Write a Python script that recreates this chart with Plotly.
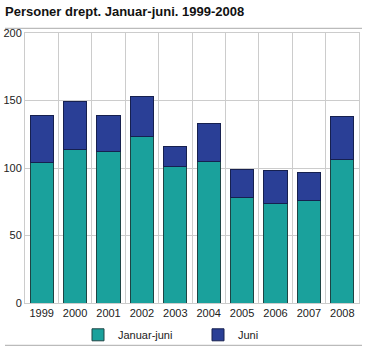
import plotly.graph_objects as go

years = ["1999", "2000", "2001", "2002", "2003", "2004", "2005", "2006", "2007", "2008"]
jan_mai = [104, 114, 112, 123, 101, 105, 78, 74, 76, 106]
totals = [139, 149, 139, 153, 116, 133, 99, 98, 97, 138]
juni = [t - j for t, j in zip(totals, jan_mai)]

fig = go.Figure()
fig.add_trace(go.Bar(x=years, y=jan_mai, name="Januar-juni",
                     marker=dict(color="#1aa19c", line=dict(color="#1e4444", width=1))))
fig.add_trace(go.Bar(x=years, y=juni, name="Juni",
                     marker=dict(color="#2a3f96", line=dict(color="#16204f", width=1))))

fig.update_layout(
    barmode="stack",
    bargap=0.3,
    width=365, height=350,
    margin=dict(l=25, r=6, t=33, b=47, autoexpand=False),
    paper_bgcolor="white", plot_bgcolor="white",
    font=dict(family="Liberation Sans, Arial, sans-serif", size=11, color="#222"),
    title=dict(text="<b>Personer drept. Januar-juni. 1999-2008</b>",
               x=5/365, xanchor="left", y=1-11/350, yanchor="middle",
               font=dict(size=13, color="#111")),
    showlegend=True,
    legend=dict(orientation="h", x=(78-25)/334, xanchor="left",
                y=(302.7-334.5)/270, yanchor="middle",
                entrywidth=75, entrywidthmode="pixels",
                bgcolor="rgba(0,0,0,0)",
                font=dict(size=11, color="#222"), traceorder="normal",
                itemclick=False),
    xaxis=dict(type="category", tickson="boundaries", showgrid=True,
               gridcolor="#cccccc", gridwidth=1, ticks="", showline=True,
               linecolor="#cccccc", mirror=True, tickfont=dict(size=11)),
    yaxis=dict(range=[0, 200], dtick=50, showgrid=True, gridcolor="#cccccc",
               showline=True, linecolor="#cccccc", mirror=True, ticks="",
               zeroline=False, tickfont=dict(size=11)),
)

fig.add_shape(type="line", xref="paper", yref="paper",
              x0=(5-25)/334, x1=(362-25)/334, y0=(302.7-28)/270, y1=(302.7-28)/270,
              line=dict(color="#aaaaaa", width=1))
fig.add_shape(type="line", xref="paper", yref="paper",
              x0=(5-25)/334, x1=(362-25)/334, y0=(302.7-345)/270, y1=(302.7-345)/270,
              line=dict(color="#aaaaaa", width=1))

fig.write_html("out.html")
